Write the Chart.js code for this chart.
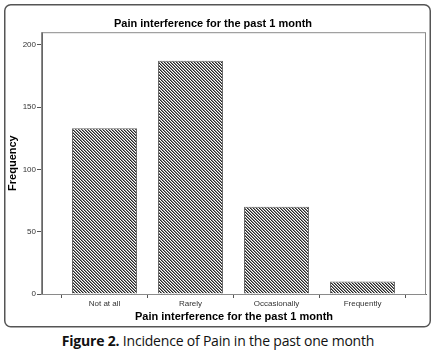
<!DOCTYPE html>
<html>
<head>
<meta charset="utf-8">
<script src="https://cdn.jsdelivr.net/npm/chart.js@4"></script>
<style>
  html, body { margin: 0; padding: 0; background: #fff; }
  #wrap { position: relative; width: 436px; height: 353px; }
  #chart { position: absolute; left: 0; top: 0; }
  #caption {
    position: absolute; left: 0; top: 331px; width: 436px; text-align: center;
    font-family: "Open Sans", sans-serif; font-size: 14px; color: #111; letter-spacing: -0.2px;
  }
</style>
</head>
<body>
<div id="wrap">
  <canvas id="chart" width="436" height="330"></canvas>
  <div id="caption"><b>Figure 2.</b> Incidence of Pain in the past one month</div>
</div>
<script>
  // ---- Data ------------------------------------------------
  const TITLE = 'Pain interference for the past 1 month';
  const CATEGORIES = ['Not at all', 'Rarely', 'Occasionally', 'Frequently'];
  const FREQUENCY = [133, 187, 70, 10];
  const Y_TICKS = [0, 50, 100, 150, 200];

  // diagonal hatch, lines running top-left to bottom-right
  function hatchPattern() {
    const c = document.createElement('canvas');
    c.width = 3; c.height = 3;
    const g = c.getContext('2d');
    const shades = ['#262626', '#8a8a8a', '#ffffff'];
    for (let y = 0; y < 3; y++) {
      for (let x = 0; x < 3; x++) {
        g.fillStyle = shades[(x - y + 3) % 3];
        g.fillRect(x, y, 1, 1);
      }
    }
    return g.createPattern(c, 'repeat');
  }

  // outer rounded frame + full plot box
  const framePlugin = {
    id: 'frame',
    beforeDraw(chart) {
      const ctx = chart.ctx;
      ctx.save();
      ctx.strokeStyle = '#555';
      ctx.lineWidth = 1.5;
      ctx.beginPath();
      ctx.roundRect(4.75, 4.75, 425.5, 322, 6);
      ctx.stroke();
      ctx.restore();
    },
    afterDatasetsDraw(chart) {
      const { ctx, chartArea: a } = chart;
      ctx.save();
      ctx.strokeStyle = '#8a8a8a';
      ctx.lineWidth = 1;
      ctx.strokeRect(a.left - 0.5, a.top + 0.5, a.right - a.left, a.bottom - a.top);
      ctx.restore();
    },
  };

  const tickFont = { family: '"Liberation Sans", Arial, sans-serif', size: 8 };
  const titleFont = { family: '"Liberation Sans", Arial, sans-serif', size: 11, weight: 'bold', lineHeight: 1.2 };

  new Chart(document.getElementById('chart'), {
    type: 'bar',
    data: {
      datasets: [{
        label: 'Frequency',
        data: FREQUENCY.map((v, i) => ({ x: i, y: v })),
        backgroundColor: hatchPattern(),
        borderColor: '#666',
        borderWidth: 1,
        barPercentage: 0.756,
        categoryPercentage: 1,
      }],
    },
    options: {
      responsive: false,
      animation: false,
      layout: { padding: { top: 0, left: 0, right: 10, bottom: 0 } },
      scales: {
        x: {
          type: 'linear',
          min: -0.727,
          max: 3.738,
          offset: false,
          afterBuildTicks: (s) => { s.ticks = CATEGORIES.map((c, i) => ({ value: i })); },
          afterFit: (s) => { s.height = 36; },
          grid: { drawOnChartArea: false, tickLength: 4, color: '#555' },
          border: { display: true, color: '#666' },
          ticks: { font: tickFont, color: '#333', padding: 1, maxRotation: 0, callback: (v) => CATEGORIES[v] },
          title: { display: true, text: TITLE, font: titleFont, color: '#000', padding: { top: 0, bottom: 6 } },
        },
        y: {
          min: 0,
          max: 210,
          afterBuildTicks: (s) => { s.ticks = Y_TICKS.map((v) => ({ value: v })); },
          afterFit: (s) => { s.width = 42; },
          grid: { drawOnChartArea: false, tickLength: 5, color: '#555' },
          border: { display: true, color: '#666' },
          ticks: { font: tickFont, color: '#333', padding: 1 },
          title: { display: true, text: 'Frequency', font: titleFont, color: '#000', padding: { top: 6, bottom: 0 } },
        },
      },
      plugins: {
        legend: { display: false },
        tooltip: { enabled: false },
        title: {
          display: true,
          text: TITLE,
          font: titleFont,
          color: '#000',
          padding: { top: 17, bottom: 2 },
        },
      },
    },
    plugins: [framePlugin],
  });
</script>
</body>
</html>
